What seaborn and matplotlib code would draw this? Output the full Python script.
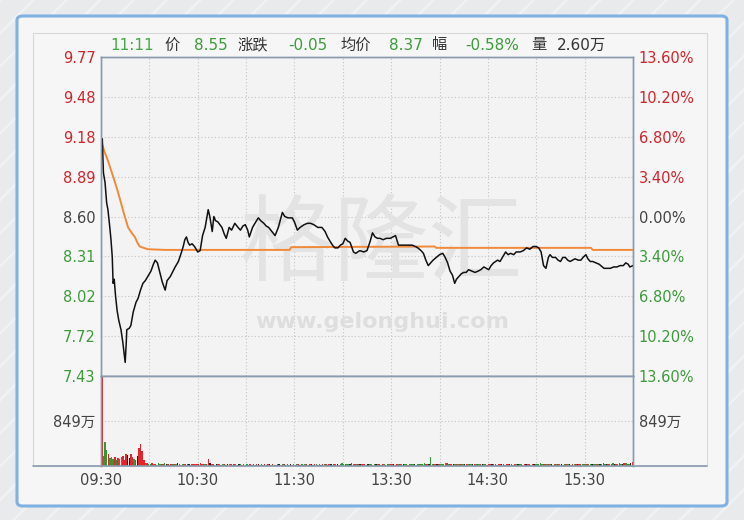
import numpy as np
import matplotlib.pyplot as plt
import seaborn as sns
from matplotlib.patches import FancyBboxPatch, Rectangle
from matplotlib.lines import Line2D

# -------------------- Data --------------------
prev_close = 8.60
pct_levels = [13.6, 10.2, 6.8, 3.4, 0.0, -3.4, -6.8, -10.2, -13.6]
left_labels = ["9.77", "9.48", "9.18", "8.89", "8.60", "8.31", "8.02", "7.72", "7.43"]
right_labels = ["13.60%", "10.20%", "6.80%", "3.40%", "0.00%", "3.40%", "6.80%", "10.20%", "13.60%"]

time_ticks = [0, 60, 120, 180, 240, 300]
time_labels = ["09:30", "10:30", "11:30", "13:30", "14:30", "15:30"]

# trading minutes since 09:30 (lunch break skipped)
price_times = [
    0, 0.8, 1.5, 2.5, 3.5, 4.3, 5.2, 6.2, 7, 7.5,
    8.2, 9, 10, 11, 12.4, 13.5, 14.3, 15, 15.6, 16,
    17.5, 18.5, 20, 21.7, 23, 24.5, 26, 27.5, 29, 31,
    32.5, 33.6, 35, 36.7, 38, 39.8, 41, 43, 46, 48,
    49.7, 51, 52, 53, 54, 55, 56.5, 58, 60, 61.5,
    63, 64.6, 66.5, 67.5, 68.3, 69, 70, 71, 72.5, 75,
    76.5, 77.7, 79.5, 81, 83, 85, 86.5, 88, 89.5, 91,
    92, 94, 96, 97.6, 99, 101, 102.5, 104, 106, 108,
    110, 112.5, 114, 116, 118.7, 120, 121.8, 123.5, 126, 128,
    130, 132, 134.5, 137, 139, 140.5, 142, 143.6, 145, 147,
    148.5, 150, 151.5, 153, 154.5, 156.6, 158, 160.5, 163, 165,
    167, 168.4, 170, 171.5, 173, 175, 177, 179.5, 181, 182.7,
    184.5, 187, 190, 193, 195, 196.5, 198.5, 200, 201.5, 203,
    204.5, 206, 208, 210, 212, 213.5, 215, 216.5, 218, 219.4,
    220.5, 222, 223.5, 225, 226.5, 228, 230, 232, 234, 235.6,
    237.5, 239, 240.5, 242, 243.5, 246, 247.5, 249, 251, 252.5,
    254, 256, 257.5, 260, 262, 264, 266, 268, 270, 271.5,
    273, 274.5, 276, 277.5, 278.5, 280, 282, 283.5, 285, 286.5,
    288, 289.5, 291, 292.5, 294, 296, 297.7, 299, 300.8, 302,
    303.5, 305, 307, 309, 312, 314, 316, 318, 320, 322,
    324, 325.5, 327, 328, 330,
]
price_values = [
    9.16, 9.17, 8.92, 8.85, 8.70, 8.65, 8.55, 8.43, 8.30, 8.11,
    8.14, 8.02, 7.91, 7.84, 7.77, 7.68, 7.60, 7.53, 7.66, 7.77,
    7.78, 7.80, 7.90, 7.97, 8.00, 8.06, 8.11, 8.13, 8.16, 8.20,
    8.25, 8.28, 8.26, 8.18, 8.12, 8.06, 8.13, 8.16, 8.23, 8.27,
    8.33, 8.38, 8.43, 8.45, 8.41, 8.39, 8.40, 8.38, 8.34, 8.35,
    8.46, 8.52, 8.65, 8.60, 8.54, 8.49, 8.60, 8.57, 8.56, 8.52,
    8.47, 8.44, 8.52, 8.50, 8.55, 8.52, 8.50, 8.53, 8.54, 8.50,
    8.45, 8.52, 8.56, 8.59, 8.57, 8.55, 8.53, 8.52, 8.49, 8.46,
    8.52, 8.63, 8.60, 8.59, 8.59, 8.56, 8.50, 8.52, 8.54, 8.55,
    8.55, 8.54, 8.52, 8.52, 8.49, 8.45, 8.42, 8.39, 8.37, 8.37,
    8.39, 8.40, 8.44, 8.42, 8.41, 8.34, 8.33, 8.35, 8.34, 8.35,
    8.42, 8.48, 8.45, 8.44, 8.44, 8.43, 8.44, 8.44, 8.45, 8.46,
    8.39, 8.39, 8.39, 8.39, 8.38, 8.37, 8.35, 8.33, 8.28, 8.24,
    8.26, 8.28, 8.30, 8.32, 8.33, 8.30, 8.26, 8.20, 8.17, 8.11,
    8.14, 8.16, 8.18, 8.19, 8.19, 8.21, 8.20, 8.19, 8.20, 8.21,
    8.23, 8.22, 8.21, 8.24, 8.26, 8.28, 8.27, 8.30, 8.34, 8.32,
    8.33, 8.32, 8.34, 8.34, 8.35, 8.37, 8.36, 8.38, 8.38, 8.37,
    8.34, 8.24, 8.22, 8.30, 8.32, 8.30, 8.30, 8.28, 8.27, 8.30,
    8.30, 8.28, 8.27, 8.28, 8.29, 8.28, 8.28, 8.30, 8.32, 8.29,
    8.27, 8.27, 8.26, 8.25, 8.22, 8.22, 8.22, 8.23, 8.23, 8.24,
    8.24, 8.26, 8.25, 8.23, 8.24,
]

avg_times = [0, 2, 4.3, 6.5, 8.7, 10.5, 12.4, 14.5, 16.8, 19, 21, 22.5,
             24, 29, 40, 117, 118, 207, 208, 304, 305, 330]
avg_values = [9.16, 9.08, 9.01, 8.93, 8.85, 8.78, 8.70, 8.61, 8.52, 8.48, 8.45, 8.41,
              8.38, 8.36, 8.355, 8.355, 8.375, 8.38, 8.37, 8.37, 8.355, 8.355]

# per-minute volume, in 万
volume = [
    2600, 190, 450, 300, 230, 150, 170, 130, 170, 110, 150, 130, 170, 190, 110,
    230, 210, 150, 230, 170, 130, 110, 190, 340, 415, 280, 110, 60, 50, 40,
    40, 55, 30, 45, 25, 50, 35, 40, 30, 55, 45, 30, 25, 40, 35,
    30, 45, 50, 30, 25, 35, 40, 30, 45, 30, 25, 40, 35, 30, 40,
    35, 50, 40, 30, 45, 40, 130, 60, 30, 35, 25, 30, 40, 30, 25,
    35, 30, 25, 45, 30, 35, 25, 30, 40, 25, 30, 35, 25, 30, 20,
    30, 25, 35, 20, 30, 25, 40, 30, 25, 30, 20, 35, 25, 30, 40,
    25, 30, 20, 25, 35, 30, 25, 30, 40, 25, 30, 20, 30, 25, 35,
    25, 30, 35, 25, 30, 20, 40, 30, 25, 30, 35, 25, 30, 45, 25,
    30, 20, 35, 40, 30, 25, 30, 35, 25, 40, 30, 45, 25, 30, 50,
    45, 40, 35, 30, 45, 50, 35, 30, 40, 35, 30, 45, 35, 30, 25,
    40, 35, 30, 25, 30, 35, 30, 40, 25, 30, 35, 25, 30, 40, 30,
    35, 30, 25, 40, 35, 45, 40, 30, 35, 30, 25, 30, 40, 35, 30,
    25, 30, 35, 40, 45, 50, 35, 30, 40, 170, 45, 40, 35, 30, 40,
    35, 30, 45, 50, 55, 40, 35, 30, 45, 40, 35, 30, 40, 35, 30,
    45, 40, 35, 30, 40, 35, 30, 45, 40, 35, 30, 40, 35, 30, 25,
    30, 35, 40, 30, 35, 25, 30, 40, 35, 30, 25, 30, 35, 40, 30,
    25, 35, 30, 40, 35, 30, 25, 30, 35, 40, 30, 25, 35, 30, 40,
    35, 45, 55, 40, 35, 30, 45, 40, 35, 30, 25, 35, 30, 40, 35,
    30, 25, 30, 35, 40, 30, 25, 30, 35, 30, 40, 35, 45, 40, 30,
    35, 40, 30, 35, 45, 40, 35, 30, 40, 45, 35, 50, 40, 45, 35,
    40, 45, 50, 40, 35, 45, 50, 40, 45, 55, 50, 45, 40, 50, 75,
]
# r = up, g = down, k = flat
volume_dirs = """
rgggr gggrg rggrr rkkrr grkrr rrgrg
grgrk ggrrg krgrg rgkrr grgrk grrgr
rrrrg rrkgr gkrgr grgkg rgrgr kgrgr
gkrgr grkgr grgrk grgrg krgrg rgkrg
rgrkg rgrgr kgrgr gkrgr grkgr gkrgg
grggk rgrgr kgrrg krgrg kgrgr gkrgr
rkgrg rgkgg rgrgk rgrgg grgkg grgkr
ggggr grrkg rgrrg krgrg krgrg rkgrr
rrkrr grrkr grrkr grgkr grrkg rgrkg
ggggr rgrgk grgrg krgrg kgrgr krrgg
grggk rgrgk grgkr grgkr grgkr grgkr
"""
volume_dirs = "".join(volume_dirs.split())
vol_max = 1698  # chart top of volume panel, 万
vol_tick = 849

header = [
    ("11:11", 110, "#4aa64a"), ("价", 164, "#333333"), ("8.55", 194, "#3d9a3d"),
    ("涨跌", 238, "#333333"), ("-0.05", 288, "#3d9a3d"), ("均价", 340, "#333333"),
    ("8.37", 389, "#3d9a3d"), ("幅", 432, "#333333"), ("-0.58%", 465, "#3d9a3d"),
    ("量", 531, "#333333"), ("2.60万", 557, "#333333"),
]

assert len(price_times) == len(price_values)
assert len(volume) == len(volume_dirs) == 330

# -------------------- Style --------------------
W, H = 744, 520
RED, GREEN, DARK = "#d2232b", "#3d9a3d", "#444444"
SPINE = "#8a9bb0"
GRID = "#c4c4c4"

sns.set_theme(style="white")
plt.rcParams["font.family"] = ["DejaVu Sans", "Noto Sans CJK SC"]
plt.rcParams["hatch.linewidth"] = 2.0


def fx(x):
    return x / W


def fy(y):
    return 1 - y / H


fig = plt.figure(figsize=(W / 100, H / 100), dpi=100)
fig.patch.set_facecolor("#e8eaec")
fig.patches.append(Rectangle((0, 0), 1, 1, transform=fig.transFigure, facecolor="#e8eaec",
                             edgecolor="#f0f1f2", hatch="/", lw=0, zorder=-10))
fig.patches.append(FancyBboxPatch((fx(17), fy(506)), fx(727) - fx(17), fy(16) - fy(506),
                                  boxstyle="round,pad=0,rounding_size=0.008",
                                  transform=fig.transFigure, facecolor="#f6f6f6",
                                  edgecolor="#7fb1e3", lw=2.2, zorder=-9))
fig.patches.append(Rectangle((fx(33), fy(466)), fx(707) - fx(33), fy(33) - fy(466),
                             transform=fig.transFigure, fill=False,
                             edgecolor="#d8d8d8", lw=0.8, zorder=-8))

levels = [prev_close * (1 + p / 100) for p in pct_levels]
level_colors = [RED if p > 0 else (GREEN if p < 0 else DARK) for p in pct_levels]

# -------------------- Price panel --------------------
ax = fig.add_axes([fx(101), fy(376), fx(633) - fx(101), fy(57) - fy(376)])
ax.set_facecolor("#f3f3f3")
ax.set_axisbelow(True)
ax.set_xlim(0, 330)
ax.set_ylim(levels[-1], levels[0])
ax.set_xticks(np.arange(0, 331, 30))
ax.set_xticklabels([])
ax.set_yticks(levels)
ax.set_yticklabels(left_labels)
ax.tick_params(axis="both", length=0)
ax.tick_params(axis="y", pad=4, labelsize=10.5)
for lab, c in zip(ax.get_yticklabels(), level_colors):
    lab.set_color(c)
ax.grid(True, linestyle=(0, (1, 2)), color=GRID, lw=0.8)

ax.text(fx(381), fy(246), "格隆汇", transform=fig.transFigure, ha="center", va="center",
        fontsize=68, color="#e3e3e3", family=["Noto Sans CJK SC"], zorder=1)
ax.text(fx(382), fy(322), "www.gelonghui.com", transform=fig.transFigure, ha="center",
        va="center", fontsize=16, fontweight="bold", color="#dedede", zorder=1)

sns.lineplot(x=avg_times, y=avg_values, ax=ax, color="#f08a3a", linewidth=1.4, zorder=3)
sns.lineplot(x=price_times, y=price_values, ax=ax, color="#111111", linewidth=1.1, zorder=4)
ax.set_xlabel("")
ax.set_ylabel("")

ax2 = ax.twinx()
ax2.set_ylim(levels[-1], levels[0])
ax2.set_yticks(levels)
ax2.set_yticklabels(right_labels)
ax2.tick_params(axis="y", length=0, pad=4, labelsize=10.5)
for lab, c in zip(ax2.get_yticklabels(), level_colors):
    lab.set_color(c)
ax2.grid(False)

for a in (ax, ax2):
    for s in a.spines.values():
        s.set_color(SPINE)
        s.set_linewidth(1.0)

# -------------------- Volume panel --------------------
axv = fig.add_axes([fx(101), fy(466), fx(633) - fx(101), fy(376) - fy(466)])
axv.set_facecolor("#f3f3f3")
axv.set_axisbelow(True)
dir_colors = {"r": "#e3262d", "g": "#2f9a2f", "k": "#222222"}
bar_colors = [dir_colors[d] for d in volume_dirs]
axv.bar(np.arange(len(volume)) + 0.55, volume, width=0.9, color=bar_colors, lw=0, zorder=3)
axv.set_xlim(0, 330)
axv.set_ylim(0, vol_max)
axv.set_xticks(np.arange(0, 331, 30))
axv.set_xticklabels([time_labels[time_ticks.index(t)] if t in time_ticks else ""
                     for t in range(0, 331, 30)])
axv.set_yticks([vol_tick])
axv.set_yticklabels([f"{vol_tick}万"])
axv.tick_params(axis="both", length=0, labelsize=10.5, labelcolor=DARK)
axv.tick_params(axis="x", pad=5)
axv.tick_params(axis="y", pad=4)
axv.grid(True, linestyle=(0, (1, 2)), color=GRID, lw=0.8)

axv2 = axv.twinx()
axv2.set_ylim(0, vol_max)
axv2.set_yticks([vol_tick])
axv2.set_yticklabels([f"{vol_tick}万"])
axv2.tick_params(axis="y", length=0, pad=4, labelsize=10.5, labelcolor=DARK)
axv2.grid(False)

for a in (axv, axv2):
    for name, s in a.spines.items():
        s.set_color(SPINE)
        s.set_linewidth(1.0)
        if name == "bottom":
            s.set_visible(False)

fig.add_artist(Line2D([fx(33), fx(707)], [fy(466), fy(466)], transform=fig.transFigure,
                      color=SPINE, lw=1.2))

# -------------------- Header --------------------
for text, x, color in header:
    fig.text(fx(x), fy(45), text, color=color, fontsize=11, ha="left", va="center")

fig.savefig("out.png", dpi=100)
